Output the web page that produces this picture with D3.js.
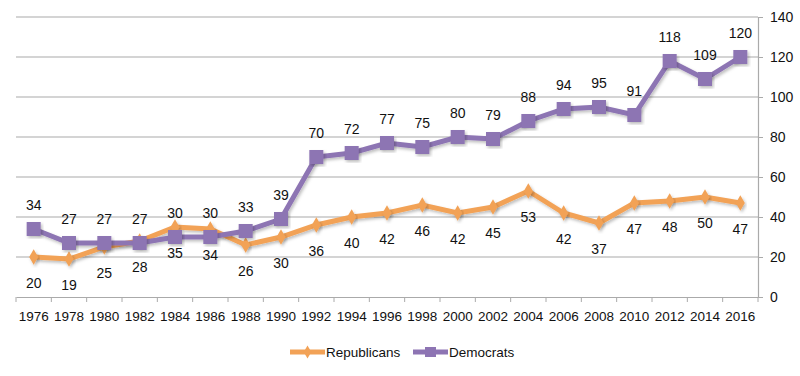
<!DOCTYPE html>
<html>
<head>
<meta charset="utf-8">
<script src="https://cdn.jsdelivr.net/npm/d3@7"></script>
<style>
    body { margin: 0; background: #fff; }
    svg text { font-family: "Liberation Sans", Arial, sans-serif; fill: #111; }
</style>
</head>
<body>
<div id="chart"></div>
<script>
// data
const years = ["1976", "1978", "1980", "1982", "1984", "1986", "1988", "1990", "1992", "1994", "1996",
    "1998", "2000", "2002", "2004", "2006", "2008", "2010", "2012", "2014", "2016"];
const republicans = [20, 19, 25, 28, 35, 34, 26, 30, 36, 40, 42, 46, 42, 45, 53, 42, 37, 47, 48, 50, 47];
const democrats = [34, 27, 27, 27, 30, 30, 33, 39, 70, 72, 77, 75, 80, 79, 88, 94, 95, 91, 118, 109, 120];
const yTicks = [0, 20, 40, 60, 80, 100, 120, 140];

const W = 800, H = 376;
const margin = { top: 17, right: 42, bottom: 79, left: 16 };
const width = W - margin.left - margin.right;
const height = H - margin.top - margin.bottom;

const svg = d3.select("#chart").append("svg")
    .attr("width", W)
    .attr("height", H)
    .append("g")
    .attr("transform", "translate(" + margin.left + "," + margin.top + ")");

const x = d3.scaleBand().domain(years).range([0, width]);
const y = d3.scaleLinear().domain([0, 140]).range([height, 0]);

// gridlines
svg.selectAll(".grid")
    .data(yTicks.slice(1))
    .enter()
    .append("line")
    .attr("class", "grid")
    .attr("x1", 0)
    .attr("x2", width)
    .attr("y1", d => y(d))
    .attr("y2", d => y(d))
    .attr("stroke", "#c6c6c6")
    .attr("stroke-width", 1.5);

// right axis
const yAxis = svg.append("g")
    .attr("transform", "translate(" + width + ",0)")
    .call(d3.axisRight(y).tickValues(yTicks).tickSize(5).tickPadding(7));
yAxis.select(".domain").attr("stroke", "#aaa").attr("stroke-width", 1.2);
yAxis.selectAll(".tick line").attr("stroke", "#aaa");
yAxis.selectAll("text").attr("font-size", 14).style("font-family", "Liberation Sans, Arial, sans-serif");

// bottom axis
const xAxis = svg.append("g")
    .attr("transform", "translate(0," + height + ")")
    .call(d3.axisBottom(x).tickSize(0).tickPadding(14));
xAxis.select(".domain").attr("stroke", "#aaa").attr("stroke-width", 1.2);
xAxis.selectAll("text").attr("font-size", 13.5).style("font-family", "Liberation Sans, Arial, sans-serif");

// tick marks between categories
svg.selectAll(".xtick")
    .data(years.concat(["end"]))
    .enter()
    .append("line")
    .attr("class", "xtick")
    .attr("x1", (d, i) => i * x.bandwidth())
    .attr("x2", (d, i) => i * x.bandwidth())
    .attr("y1", height)
    .attr("y2", height + 5)
    .attr("stroke", "#aaa");

const repColor = "#f2a257";
const demColor = "#8d74b3";

const line = d3.line()
    .x((d, i) => x(years[i]) + x.bandwidth() / 2)
    .y(d => y(d));

const shadow = svg.append("defs").append("filter")
    .attr("id", "shadow")
    .attr("x", "-20%").attr("y", "-20%").attr("width", "140%").attr("height", "140%");
shadow.append("feDropShadow")
    .attr("dx", 1.5).attr("dy", 2).attr("stdDeviation", 1.5)
    .attr("flood-color", "#000").attr("flood-opacity", 0.25);

// republicans
svg.append("path")
    .datum(republicans)
    .attr("d", line)
    .attr("fill", "none")
    .attr("stroke", repColor)
    .attr("stroke-width", 5)
    .attr("filter", "url(#shadow)");

svg.selectAll(".rep-marker")
    .data(republicans)
    .enter()
    .append("path")
    .attr("class", "rep-marker")
    .attr("d", d3.symbol().type(d3.symbolDiamond).size(70))
    .attr("transform", (d, i) => "translate(" + (x(years[i]) + x.bandwidth() / 2) + "," + y(d) + ")")
    .attr("fill", repColor)
    .attr("filter", "url(#shadow)");

// democrats
svg.append("path")
    .datum(democrats)
    .attr("d", line)
    .attr("fill", "none")
    .attr("stroke", demColor)
    .attr("stroke-width", 5)
    .attr("filter", "url(#shadow)");

svg.selectAll(".dem-marker")
    .data(democrats)
    .enter()
    .append("rect")
    .attr("class", "dem-marker")
    .attr("x", (d, i) => x(years[i]) + x.bandwidth() / 2 - 7)
    .attr("y", d => y(d) - 7)
    .attr("width", 14)
    .attr("height", 14)
    .attr("fill", demColor)
    .attr("filter", "url(#shadow)");

// value labels
svg.selectAll(".rep-label")
    .data(republicans)
    .enter()
    .append("text")
    .attr("class", "rep-label")
    .attr("x", (d, i) => x(years[i]) + x.bandwidth() / 2)
    .attr("y", d => y(d) + 31)
    .attr("text-anchor", "middle")
    .attr("font-size", 14)
    .text(d => d);

svg.selectAll(".dem-label")
    .data(democrats)
    .enter()
    .append("text")
    .attr("class", "dem-label")
    .attr("x", (d, i) => x(years[i]) + x.bandwidth() / 2)
    .attr("y", d => y(d) - 19)
    .attr("text-anchor", "middle")
    .attr("font-size", 14)
    .text(d => d);

// legend
const legend = svg.append("g")
    .attr("transform", "translate(" + (290 - margin.left) + "," + (352 - margin.top) + ")");

const items = [
    { name: "Republicans", color: repColor, x: 0, type: "diamond" },
    { name: "Democrats", color: demColor, x: 123, type: "square" }
];

items.forEach(it => {
    const g = legend.append("g").attr("transform", "translate(" + it.x + ",0)");
    g.append("line")
        .attr("x1", 0).attr("x2", 35)
        .attr("y1", 0).attr("y2", 0)
        .attr("stroke", it.color)
        .attr("stroke-width", 5);
    if (it.type === "diamond") {
        g.append("path")
            .attr("d", d3.symbol().type(d3.symbolDiamond).size(50))
            .attr("transform", "translate(17.5,0)")
            .attr("fill", it.color);
    } else {
        g.append("rect")
            .attr("x", 12).attr("y", -5)
            .attr("width", 11).attr("height", 10)
            .attr("fill", it.color);
    }
    g.append("text")
        .attr("x", 36)
        .attr("y", 5)
        .attr("font-size", 13.5)
        .text(it.name);
});
</script>
</body>
</html>
